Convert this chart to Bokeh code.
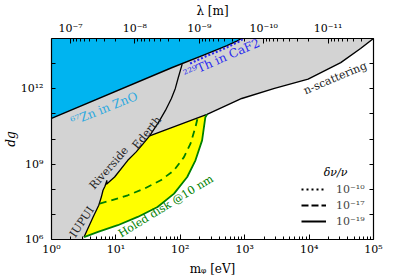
from bokeh.plotting import figure
from bokeh.models import (FixedTicker, LogAxis, Label, Legend, LegendItem,
                          CustomJSTickFormatter)
from bokeh.embed import file_html
from bokeh.resources import INLINE

# ---------------- data ----------------
M_RANGE = (1.0, 1e5)          # m_phi [eV]
D_RANGE = (1e6, 1e14)         # d_g
HBARC = 1.97327e-7            # eV*m, lambda = hbar c / m

# 67Zn in ZnO exclusion boundary
zno_m = [1.0, 75.0, 240.0, 530.0, 750.0, 900.0]
zno_d = [6.6e10, 7.0e12, 2.3e13, 5.2e13, 7.9e13, 1.0e14]

# 229Th in CaF2 (dotted)
th_m = [142.0, 243.0, 412.0, 631.0, 809.0, 966.0]
th_d = [1.01e13, 1.9e13, 3.3e13, 5.5e13, 7.5e13, 1.0e14]

# IUPUI + Riverside
iu_m = [3.2, 4.43, 5.42, 5.94, 6.31, 6.77, 7.27, 7.14, 9.55, 15.3, 20.5, 26.0, 33.4]
iu_d = [1.25e6, 7.9e6, 2.3e7, 4.9e7, 9.1e7, 1.31e8, 2.27e8, 1.57e8, 3.07e8,
        1.42e9, 3.0e9, 6.1e9, 1.33e10]

# Ederth
ed_m = [33.4, 45.9, 58.8, 72.7, 83.7, 93.1, 107.0]
ed_d = [1.33e10, 4.57e10, 1.37e11, 4.1e11, 1.03e12, 2.8e12, 9.5e12]

# n-scattering
ns_m = [33.4, 260.0, 900.0, 2900.0, 9650.0, 3.1e4, 6.3e4, 1.0e5]
ns_d = [1.33e10, 9.5e10, 4.1e11, 1.03e12, 2.4e12, 1.1e13, 4.0e13, 1.0e14]

# Holed disk @10 nm (solid green)
hd_m = [3.2, 5.28, 10.7, 21.8, 44.3, 80.0, 128.0, 172.0, 218.0, 245.0, 260.0]
hd_d = [1.25e6, 2.0e6, 3.7e6, 7.9e6, 1.97e7, 6.7e7, 3.07e8, 1.42e9, 8.8e9,
        7.4e10, 9.5e10]

# dashed green (delta nu/nu = 1e-17)
dg_m = [5.61, 8.47, 15.3, 27.7, 49.8, 80.0, 114.0, 144.0, 172.0, 187.0]
dg_d = [2.7e7, 3.6e7, 5.75e7, 1.06e8, 2.27e8, 5.7e8, 1.9e9, 6.5e9, 2.98e10, 7.4e10]

# ticks
x_ticks = [1.0, 10.0, 100.0, 1e3, 1e4, 1e5]
x_labels = ["10⁰", "10¹", "10²", "10³", "10⁴", "10⁵"]
y_ticks = [1e6, 1e7, 1e8, 1e9, 1e10, 1e11, 1e12, 1e13, 1e14]
y_labels = ["10⁶", "", "", "10⁹", "", "", "10¹²", "", ""]
lam_ticks = [1e-7, 1e-8, 1e-9, 1e-10, 1e-11]
lam_labels = ["10⁻⁷", "10⁻⁸", "10⁻⁹", "10⁻¹⁰", "10⁻¹¹"]
legend_labels = ["10⁻¹⁰", "10⁻¹⁷", "10⁻¹⁹"]

# ---------------- styles ----------------
FONT = "DejaVu Serif"
BLUE_FILL = "#00b4f0"
GRAY_FILL = "#d3d3d3"
YELLOW = "#ffff00"
GREEN = "#008000"
TH_BLUE = "#2a2af0"
ZN_TEXT = "#2aa8e0"
DARK = "#222222"

p = figure(width=397, height=278, x_axis_type="log", y_axis_type="log",
           x_range=M_RANGE, y_range=D_RANGE, output_backend="svg",
           toolbar_location=None, min_border_left=48, min_border_right=24,
           min_border_top=38, min_border_bottom=39)
p.grid.visible = False
p.outline_line_color = None
p.background_fill_color = "white"


def fmt(ticks, labels):
    return CustomJSTickFormatter(args=dict(tv=list(ticks), lb=list(labels)), code="""
        for (let i = 0; i < tv.length; i++) {
            if (Math.abs(Math.log10(tick) - Math.log10(tv[i])) < 1e-6) return lb[i];
        }
        return "";
    """)


def style(ax, minor=True):
    ax.axis_line_width = 1.2
    ax.axis_line_color = "black"
    ax.major_tick_in = 5
    ax.major_tick_out = 0
    ax.major_tick_line_color = "black"
    ax.major_tick_line_width = 1
    ax.minor_tick_in = 3 if minor else 0
    ax.minor_tick_out = 0
    ax.minor_tick_line_color = "black"
    ax.major_label_text_font = FONT
    ax.major_label_text_font_size = "11px"
    ax.major_label_text_color = "black"
    ax.axis_label_text_font = FONT
    ax.axis_label_text_color = "black"
    ax.axis_label_text_font_size = "12px"


# bottom axis (m_phi)
x_minor = [k * 10.0 ** n for n in range(0, 5) for k in range(2, 10)]
bx = p.xaxis[0]
bx.ticker = FixedTicker(ticks=x_ticks, minor_ticks=x_minor)
bx.formatter = fmt(x_ticks, x_labels)
style(bx)
bx.major_label_standoff = 3
bx.axis_label = "mᵩ [eV]"
bx.axis_label_text_font_style = "normal"
bx.axis_label_standoff = 3

# left axis (d_g)
ly = p.yaxis[0]
ly.ticker = FixedTicker(ticks=y_ticks, minor_ticks=[])
ly.formatter = fmt(y_ticks, y_labels)
style(ly, minor=False)
ly.major_tick_in = 4
ly.major_label_standoff = 8
ly.axis_label = "dg"
ly.axis_label_text_font_style = "italic"
ly.axis_label_standoff = 0

# right axis (ticks only)
ry = LogAxis(ticker=FixedTicker(ticks=y_ticks, minor_ticks=[]),
             formatter=CustomJSTickFormatter(code="return '';"))
style(ry, minor=False)
ry.major_tick_in = 4
ry.major_label_text_font_size = "0px"
p.add_layout(ry, "right")

# top axis (lambda)
lam_pos = [HBARC / l for l in lam_ticks]
lam_minor = [HBARC / (k * 10.0 ** n) for n in range(-12, -6) for k in range(2, 10)]
lam_minor = [v for v in lam_minor if M_RANGE[0] <= v <= M_RANGE[1]]
tx = LogAxis(ticker=FixedTicker(ticks=lam_pos, minor_ticks=lam_minor),
             formatter=fmt(lam_pos, lam_labels))
style(tx)
tx.major_label_standoff = 4
tx.axis_label = "λ [m]"
tx.axis_label_text_font_style = "normal"
tx.axis_label_standoff = 1
p.add_layout(tx, "above")

# ---------------- regions ----------------
gray_x = [M_RANGE[0], iu_m[0]] + iu_m + ns_m[1:] + [M_RANGE[0]]
gray_y = [D_RANGE[0], D_RANGE[0]] + iu_d + ns_d[1:] + [D_RANGE[1]]
p.patch(gray_x, gray_y, fill_color=GRAY_FILL, line_color=None)

p.varea(x=zno_m, y1=zno_d, y2=[D_RANGE[1]] * len(zno_m), fill_color=BLUE_FILL)

yel_x = iu_m + hd_m[::-1]
yel_y = iu_d + hd_d[::-1]
p.patch(yel_x, yel_y, fill_color=YELLOW, line_color=None)

# ---------------- lines ----------------
p.line(zno_m, zno_d, line_color="black", line_width=1.4)
p.line(th_m, th_d, line_color=TH_BLUE, line_width=2.2, line_dash="2 2")
p.line(iu_m, iu_d, line_color="black", line_width=1.3)
p.line(ed_m, ed_d, line_color="black", line_width=1.3)
p.line(ns_m, ns_d, line_color="black", line_width=1.4)
p.line(dg_m, dg_d, line_color=GREEN, line_width=1.8, line_dash="7 5")
p.line(hd_m, hd_d, line_color=GREEN, line_width=1.8)

# ---------------- annotations ----------------
def lab(x, y, text, angle, color=DARK, size="11px", style_="normal"):
    p.add_layout(Label(x=x, y=y, text=text, angle=angle, angle_units="rad",
                       text_font=FONT, text_font_size=size, text_color=color,
                       text_baseline="alphabetic", text_align="left",
                       text_font_style=style_))

lab(2.03, 4.8e10, "⁶⁷Zn in ZnO", 0.38, color=ZN_TEXT, size="12px")
lab(115.0, 3.6e12, "²²⁹Th in CaF2", 0.41, color=TH_BLUE, size="12px")
lab(8380.0, 8.0e11, "n-scattering", 0.40, size="11px")
lab(2.1, 1.35e6, "IUPUI", 0.98, size="11px")
lab(4.2, 1.15e8, "Riverside", 0.85, size="11px")
lab(19.5, 4.6e9, "Ederth", 0.88, size="11px")
lab(11.3, 1.55e6, "Holed disk @10 nm", 0.55, color=GREEN, size="11px")

# legend title
p.add_layout(Label(x=284, y=67, x_units="screen", y_units="screen", text="δν/ν",
                   text_font=FONT, text_font_size="11px", text_font_style="italic",
                   text_color="black", text_baseline="alphabetic", text_align="center"))

# ---------------- legend ----------------
NAN = float("nan")
r1 = p.line([NAN, NAN], [NAN, NAN], line_color="black", line_width=2, line_dash="2 3")
r2 = p.line([NAN, NAN], [NAN, NAN], line_color="black", line_width=2, line_dash="7 3")
r3 = p.line([NAN, NAN], [NAN, NAN], line_color="black", line_width=2)
leg = Legend(items=[LegendItem(label=legend_labels[0], renderers=[r1]),
                    LegendItem(label=legend_labels[1], renderers=[r2]),
                    LegendItem(label=legend_labels[2], renderers=[r3])],
             location=(250, 10), padding=0, margin=0, spacing=0,
             glyph_width=25, glyph_height=16, label_height=16,
             label_standoff=10, label_text_font=FONT,
             label_text_font_size="11px", border_line_alpha=0,
             background_fill_alpha=0)
p.add_layout(leg)

open("out.html", "w").write(file_html(p, INLINE))
